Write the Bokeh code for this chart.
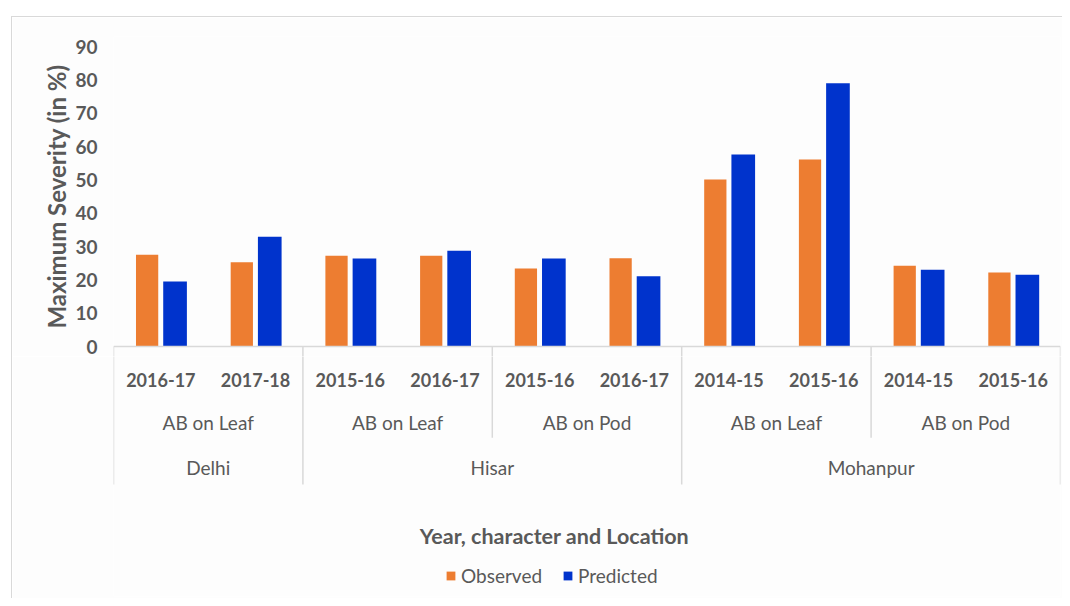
from bokeh.plotting import figure
from bokeh.layouts import column
from bokeh.models import (ColumnDataSource, FactorRange, Range1d, FixedTicker, Label,
                          Legend, LegendItem)
from bokeh.transform import dodge
from bokeh.core.properties import value
from bokeh.embed import file_html
from bokeh.resources import INLINE

# ---- data ----
locations = ["Delhi", "Delhi", "Hisar", "Hisar", "Hisar", "Hisar",
             "Mohanpur", "Mohanpur", "Mohanpur", "Mohanpur"]
characters = ["AB on Leaf", "AB on Leaf", "AB on Leaf", "AB on Leaf", "AB on Pod", "AB on Pod",
              "AB on Leaf", "AB on Leaf", "AB on Pod", "AB on Pod"]
years = ["2016-17", "2017-18", "2015-16", "2016-17", "2015-16", "2016-17",
         "2014-15", "2015-16", "2014-15", "2015-16"]
observed = [27.5, 25.3, 27.2, 27.2, 23.4, 26.5, 50.1, 56.1, 24.2, 22.2]
predicted = [19.5, 32.9, 26.4, 28.7, 26.4, 21.1, 57.6, 79.0, 23.0, 21.5]
y_ticks = [0, 10, 20, 30, 40, 50, 60, 70, 80, 90]
series_names = ["Observed", "Predicted"]
x_title = "Year, character and Location"
y_title = "Maximum Severity (in %)"

ORANGE = "#ED7D31"
BLUE = "#0033CC"
TXT = "#595959"
LINE = "#D9D9D9"
BG = "#FDFDFD"
FONT = "Lato"

factors = list(zip(locations, characters, years))
x_range = FactorRange(*factors, factor_padding=0, subgroup_padding=0,
                      group_padding=0, range_padding=0)
n = len(factors)
src = ColumnDataSource(dict(x=factors, obs=observed, pred=predicted))

# table boundaries derived from the category lists
loc_bounds = [0]
char_bounds = []
for i in range(1, n):
    if locations[i] != locations[i - 1]:
        loc_bounds.append(i)
    elif characters[i] != characters[i - 1]:
        char_bounds.append(i)
loc_bounds.append(n)
y_table_bottom = -41.7
y_char_bottom = -27.6


def style(fig):
    fig.outline_line_color = None
    fig.xgrid.visible = False
    fig.ygrid.visible = False
    fig.xaxis.visible = False
    fig.background_fill_color = BG
    fig.border_fill_color = BG


def bars(fig):
    ro = fig.vbar(x=dodge("x", -0.145, range=x_range), top="obs", width=0.235, bottom=0,
                  source=src, fill_color=ORANGE, line_color=None)
    rp = fig.vbar(x=dodge("x", 0.15, range=x_range), top="pred", width=0.25, bottom=0,
                  source=src, fill_color=BLUE, line_color=None)
    return ro, rp


def table_lines(fig):
    fig.segment(x0=[0], y0=[0], x1=[n], y1=[0], line_color=LINE, line_width=1.5)
    fig.segment(x0=loc_bounds, y0=[0] * len(loc_bounds), x1=loc_bounds,
                y1=[y_table_bottom] * len(loc_bounds), line_color=LINE, line_width=1.5)
    fig.segment(x0=char_bounds, y0=[0] * len(char_bounds), x1=char_bounds,
                y1=[y_char_bottom] * len(char_bounds), line_color=LINE, line_width=1.5)


# ---------------- top figure: bars + y axis ----------------
p = figure(width=1050, height=339, x_range=x_range, y_range=Range1d(-3, 93),
           output_backend="svg", toolbar_location=None,
           min_border_left=101, min_border_right=2, min_border_top=19, min_border_bottom=0)
style(p)
yax = p.yaxis[0]
yax.ticker = FixedTicker(ticks=y_ticks)
yax.axis_line_color = None
yax.major_tick_line_color = None
yax.major_tick_out = 0
yax.major_tick_in = 0
yax.minor_tick_line_color = None
yax.minor_tick_out = 0
yax.major_label_standoff = 16
yax.major_label_text_font = FONT
yax.major_label_text_font_style = "bold"
yax.major_label_text_font_size = "19px"
yax.major_label_text_color = TXT
yax.axis_label = y_title
yax.axis_label_standoff = 1
yax.axis_label_text_font = FONT
yax.axis_label_text_font_style = "bold"
yax.axis_label_text_font_size = "24px"
yax.axis_label_text_color = TXT

bars(p)
table_lines(p)

# ---------------- bottom figure: category table, title, legend ----------------
q = figure(width=1050, height=242, x_range=x_range, y_range=Range1d(-75.6, -3),
           output_backend="svg", toolbar_location=None,
           min_border_left=101, min_border_right=2, min_border_top=0, min_border_bottom=2)
style(q)
q.yaxis.visible = False
r_obs, r_pred = bars(q)   # hidden here; they only carry the legend swatches
r_obs.visible = False
r_pred.visible = False
table_lines(q)

q.text(x=factors, y=[-10.2] * n, text=years, text_align="center", text_baseline="middle",
       text_font=value(FONT), text_font_size="18px", text_font_style="bold", text_color=TXT)

char_keys = []
for loc, ch in zip(locations, characters):
    if (loc, ch) not in char_keys:
        char_keys.append((loc, ch))
q.text(x=char_keys, y=[-23.1] * len(char_keys), text=[c for _, c in char_keys],
       text_align="center", text_baseline="middle", text_font=value(FONT),
       text_font_size="19px", text_color=TXT)

loc_keys = []
for loc in locations:
    if loc not in loc_keys:
        loc_keys.append(loc)
q.text(x=loc_keys, y=[-36.6] * len(loc_keys), text=loc_keys, text_align="center",
       text_baseline="middle", text_font=value(FONT), text_font_size="19px",
       text_color=TXT)

q.add_layout(Label(x=441, y=-57.3, x_units="screen", y_units="data", text=x_title,
                   text_align="center", text_baseline="middle",
                   text_font=FONT, text_font_size="21.5px", text_font_style="bold",
                   text_color=TXT))

legend = Legend(items=[LegendItem(label=series_names[0], renderers=[r_obs]),
                       LegendItem(label=series_names[1], renderers=[r_pred])],
                orientation="horizontal", location=(332, 9),
                glyph_width=11, glyph_height=11, label_standoff=5, spacing=20,
                padding=0, margin=0, border_line_color=None, background_fill_alpha=0,
                inactive_fill_alpha=0,
                label_text_font=FONT, label_text_font_size="19px", label_text_color=TXT,
                label_height=20)
q.add_layout(legend)

layout = column(p, q, spacing=0, margin=(16, 0, 0, 11),
                styles={"border-top": "1px solid #D9D9D9", "border-left": "1px solid #D9D9D9"})
open("out.html", "w").write(file_html(layout, INLINE))
